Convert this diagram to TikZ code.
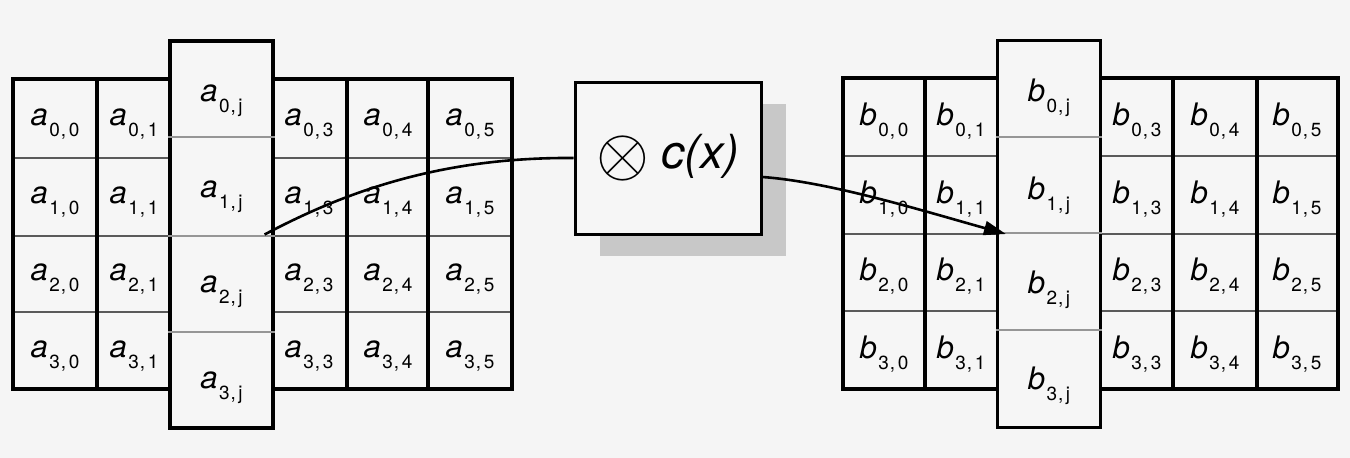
\documentclass[tikz,border=0pt]{standalone}
\usepackage{fontspec}
\setmainfont{TeX Gyre Heros}
\usepackage{graphicx}
\usetikzlibrary{arrows.meta,calc,shadows}
\definecolor{paper}{RGB}{246,246,246}
\definecolor{shade}{RGB}{200,200,200}
\definecolor{rowrule}{RGB}{90,90,90}
\definecolor{softrule}{RGB}{150,150,150}
% matrix element: oblique letter with an upright, spaced index pair
\newcommand{\elem}[3]{{\fontsize{31}{31}\selectfont\itshape #1}\kern1.5pt\raisebox{-11pt}{\fontsize{19}{19}\selectfont #2\kern1pt,\kern2.5pt#3}}
\tikzset{
  heavy/.style={line width=3.2pt},
  rowline/.style={line width=1.4pt, draw=rowrule},
  softline/.style={line width=1.4pt, draw=softrule},
  tallcol/.style={draw, heavy, fill=paper, inner sep=0pt, minimum width=103pt, minimum height=387pt},
  lbl/.style={inner sep=0pt},
  opbox/.style={draw, line width=3pt, fill=paper, inner sep=0pt,
    minimum width=186pt, minimum height=152pt,
    drop shadow={shadow xshift=25pt, shadow yshift=-22pt, opacity=1, fill=shade}},
  link/.style={line width=2.6pt},
}
\begin{document}
\begin{tikzpicture}[x=1pt,y=-1pt]
\useasboundingbox (0,0) rectangle (1350,458);
\fill[white!96!black] (0,0) rectangle (1350,458);

% ---- left matrix a ----
\fill[paper] (13,79) rectangle (512,389);
\foreach \y in {158,236,312} \draw[rowline] (13,\y) -- (512,\y);
\foreach \x in {97,347,428} \draw[heavy] (\x,79) -- (\x,389);
\draw[heavy] (13,79) rectangle (512,389);
\node[tallcol] (acol) at (221.5,234.5) {};
\foreach \y in {137,236,332} \draw[softline] (acol.west |- 0,\y) -- (acol.east |- 0,\y);
\foreach \c/\x in {0/55,1/134,3/309,4/388,5/470}
  \foreach \r/\y in {0/124,1/202,2/279,3/356}
    \node[lbl] (a\r\c) at (\x,\y) {\elem{a}{\r}{\c}};
\foreach \r/\y in {0/101,1/197,2/292,3/388}
  \node[lbl] (a\r j) at (221.5,\y) {\elem{a}{\r}{j}};

% ---- right matrix b ----
\fill[paper] (843,78) rectangle (1338,389);
\foreach \y in {156,234,311} \draw[rowline] (843,\y) -- (1338,\y);
\foreach \x in {925,1173,1257} \draw[heavy] (\x,78) -- (\x,389);
\draw[heavy] (843,78) rectangle (1338,389);
\node[tallcol] (bcol) at (1049,234) {};
\foreach \y in {137,233,330} \draw[softline] (bcol.west |- 0,\y) -- (bcol.east |- 0,\y);
\foreach \c/\x in {0/884,1/961,3/1137,4/1215,5/1297}
  \foreach \r/\y in {0/121,1/199,2/276,3/354}
    \node[lbl] (b\r\c) at (\x,\y) {\elem{b}{\r}{\c}};
\foreach \r/\y in {0/98,1/196,2/290,3/386}
  \node[lbl] (b\r j) at (1049,\y) {\elem{b}{\r}{j}};

% ---- multiplication box ----
\node[opbox] (mult) at (668,158)
  {\raisebox{-7pt}{\scalebox{6.8}{$\otimes$}}\hspace{12pt}{\fontsize{47}{47}\selectfont\itshape c(x)}};

% ---- connectors ----
\coordinate (astart) at ($(acol.east)+(-10,0)$);
\coordinate (bend) at ($(bcol.west)+(10,0)$);
\coordinate (mout) at ($(mult.east)+(0,19)$);
\draw[link] (astart) .. controls (345,192) and (440,157) .. (mult.west);
\draw[link, -{Triangle[length=22pt,width=14pt]}] (mout) .. controls (830,182) and (920,210) .. (bend);
\end{tikzpicture}
\end{document}
